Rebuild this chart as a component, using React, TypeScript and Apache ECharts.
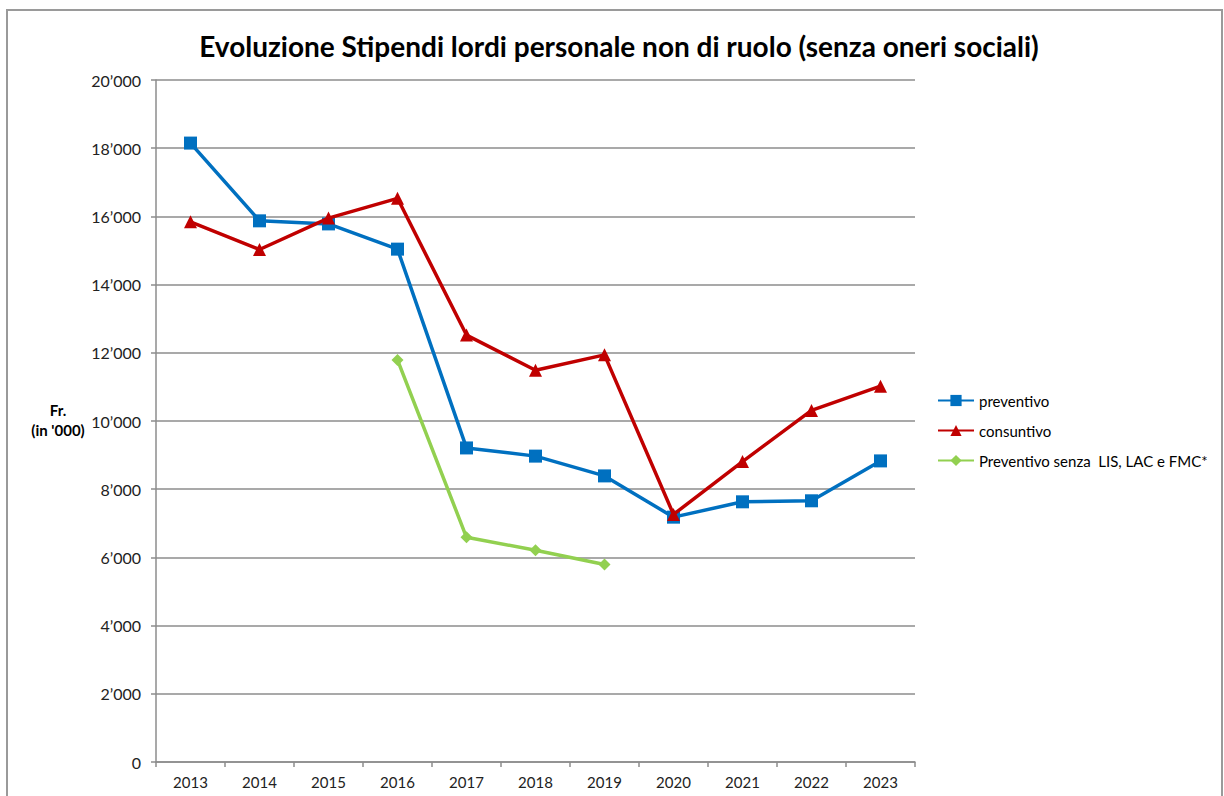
import React, { useEffect, useRef } from "react";
import * as echarts from "echarts";

const years = ["2013", "2014", "2015", "2016", "2017", "2018", "2019", "2020", "2021", "2022", "2023"];
const preventivo = [18150, 15870, 15780, 15040, 9210, 8970, 8390, 7180, 7630, 7660, 8830];
const consuntivo = [15840, 15030, 15950, 16530, 12520, 11490, 11940, 7260, 8810, 10310, 11020];
const preventivoSenza = [null, null, null, 11790, 6590, 6210, 5790, null, null, null, null];

const fmt = (v: number) => {
  if (v === 0) return "0";
  const s = String(Math.round(v));
  return s.replace(/\B(?=(\d{3})+(?!\d))/g, "\u2019");
};

export default function App() {
  const ref = useRef<HTMLDivElement>(null);
  useEffect(() => {
    if (!ref.current) return;
    const chart = echarts.init(ref.current, null, { renderer: "svg" });
    const font = "Lato, 'Open Sans', sans-serif";
    chart.setOption({
      animation: false,
      backgroundColor: "#ffffff",
      textStyle: { fontFamily: font },
      title: {
        text: "Evoluzione Stipendi lordi personale non di ruolo (senza oneri sociali)",
        left: 614,
        top: 27,
        textAlign: "center",
        textStyle: { fontFamily: font, fontWeight: "bold", fontSize: 28, color: "#000" },
      },
      graphic: [
        {
          type: "rect",
          shape: { x: 7, y: 10, width: 1215, height: 820 },
          style: { fill: "none", stroke: "#9a9a9a", lineWidth: 2 },
          silent: true,
          z: -10,
        },
        {
          type: "text",
          x: 58,
          y: 420,
          style: {
            text: "Fr.\n(in '000)",
            fontFamily: font,
            fontWeight: "bold",
            fontSize: 15,
            fill: "#000",
            align: "center",
            verticalAlign: "middle",
            lineHeight: 20,
          },
        },
      ],
      legend: {
        orient: "vertical",
        left: 932,
        top: 388,
        itemWidth: 36,
        itemHeight: 14,
        itemGap: 15,
        textStyle: { fontFamily: font, fontSize: 15, color: "#000" },
        data: ["preventivo", "consuntivo", "Preventivo senza  LIS, LAC e FMC*"],
      },
      grid: { left: 156, right: 309, top: 80, bottom: 34, containLabel: false },
      xAxis: {
        type: "category",
        data: years,
        boundaryGap: true,
        axisLine: { lineStyle: { color: "#8c8c8c", width: 1.5 } },
        axisTick: { show: true, length: 5, interval: 0, lineStyle: { color: "#8c8c8c", width: 1.5 } },
        axisLabel: { fontFamily: font, fontSize: 15, color: "#222", margin: 12 },
      },
      yAxis: {
        type: "value",
        min: 0,
        max: 20000,
        interval: 2000,
        axisLine: { show: true, lineStyle: { color: "#8c8c8c", width: 1.5 } },
        axisTick: { show: true, length: 5, lineStyle: { color: "#8c8c8c", width: 1.5 } },
        splitLine: { lineStyle: { color: "#8c8c8c", width: 1.5 } },
        axisLabel: { fontFamily: font, fontSize: 16, color: "#222", margin: 15, formatter: fmt },
      },
      series: [
        {
          name: "preventivo",
          type: "line",
          data: preventivo,
          color: "#0070C0",
          lineStyle: { width: 3.5 },
          symbol: "rect",
          symbolSize: 13,
          z: 3,
        },
        {
          name: "consuntivo",
          type: "line",
          data: consuntivo,
          color: "#C00000",
          lineStyle: { width: 3.5 },
          symbol: "triangle",
          symbolSize: 13,
          z: 4,
        },
        {
          name: "Preventivo senza  LIS, LAC e FMC*",
          type: "line",
          data: preventivoSenza,
          color: "#92D050",
          lineStyle: { width: 3.5 },
          symbol: "diamond",
          symbolSize: 12,
          connectNulls: false,
          z: 2,
        },
      ],
    });
    return () => chart.dispose();
  }, []);
  return (
    <div
      ref={ref}
      style={{ position: "absolute", left: 0, top: 0, width: 1224, height: 796 }}
    />
  );
}
